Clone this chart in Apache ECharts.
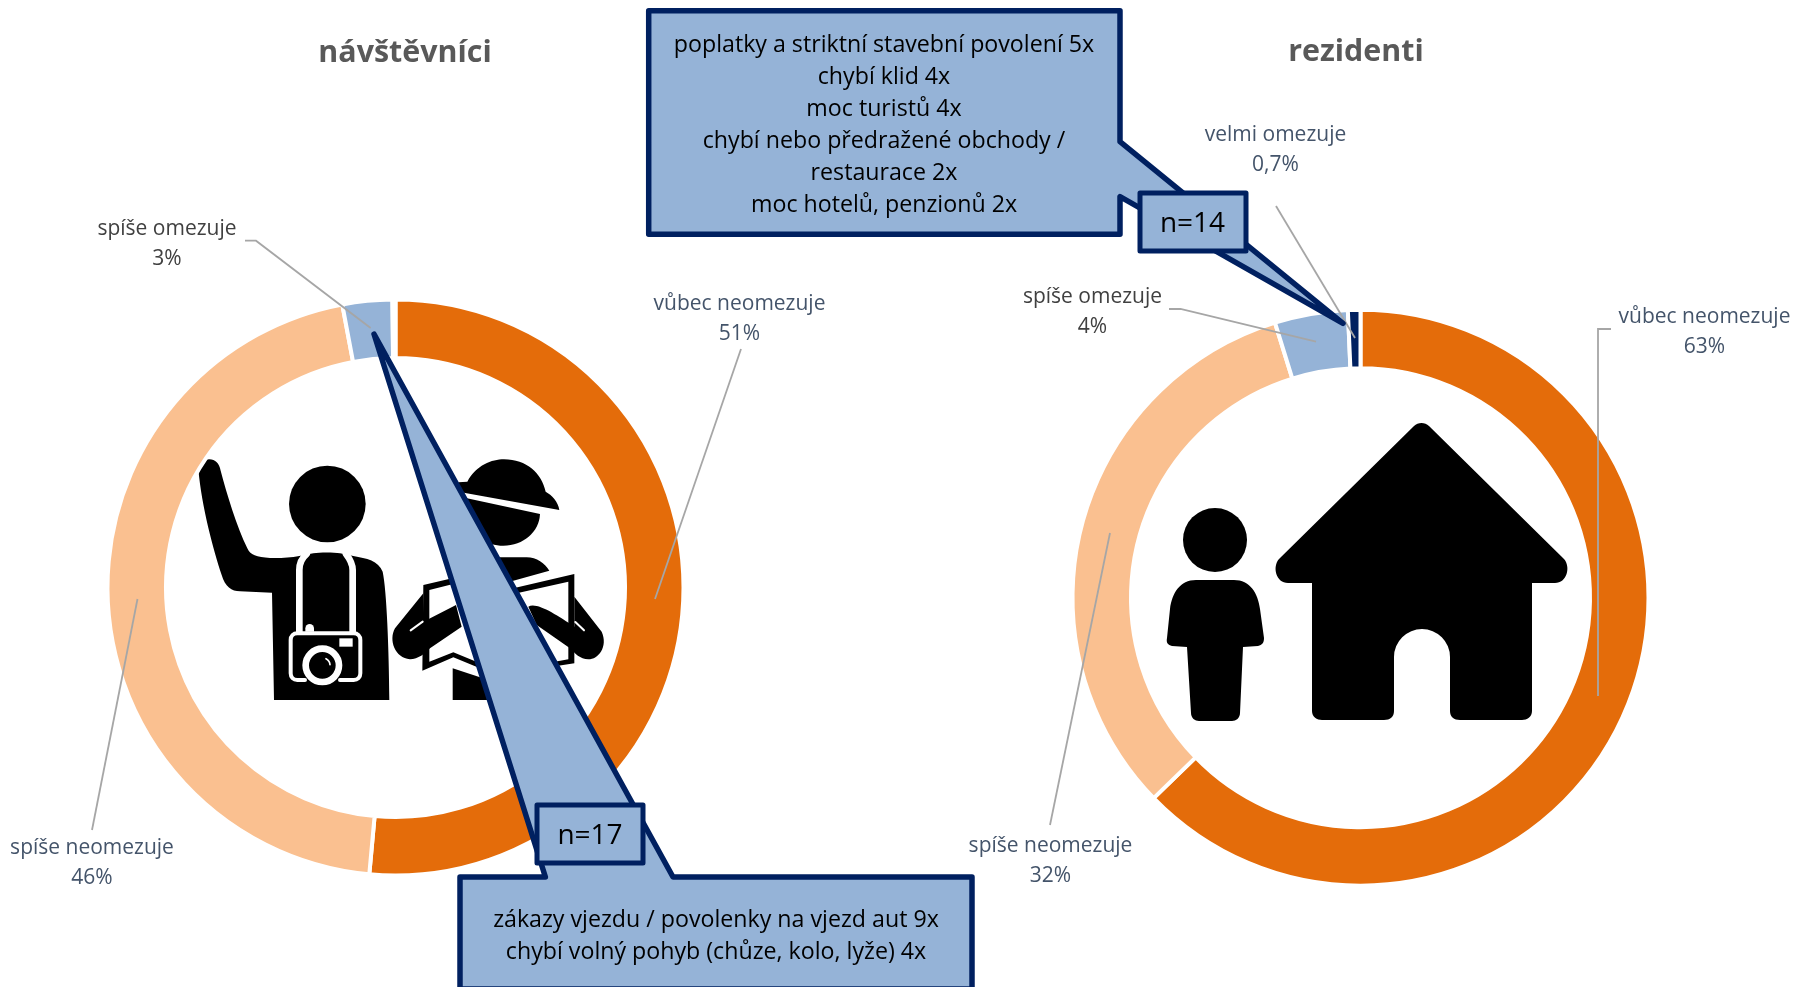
<!DOCTYPE html>
<html><head><meta charset="utf-8">
<style>html,body{margin:0;padding:0;background:#fff}#c{width:1796px;height:987px}</style>
<script src="https://cdn.jsdelivr.net/npm/echarts@6/dist/echarts.min.js"></script>
</head><body><div id="c"></div>
<script>
const categories = ['vůbec neomezuje', 'spíše neomezuje', 'spíše omezuje', 'velmi omezuje'];
const visitors = [51.45, 45.59, 2.79, 0.17];
const residents = [62.75, 32.45, 4.1, 0.7];
const sliceColors = ['#E46C0A', '#FAC090', '#95B3D7', '#002060'];
const titles = ['návštěvníci', 'rezidenti'];
const visitorNote = ['zákazy vjezdu / povolenky na vjezd aut 9x', 'chybí volný pohyb (chůze, kolo, lyže) 4x'];
const residentNote = ['poplatky a striktní stavební povolení 5x', 'chybí klid 4x', 'moc turistů 4x', 'chybí nebo předražené obchody /', 'restaurace 2x', 'moc hotelů, penzionů 2x'];
const visitorN = 'n=17', residentN = 'n=14';

const SLATE = '#44546A', GREY = '#404040', NAVY = '#002060', BLUE = '#95B3D7';
const FONT = '"Open Sans", sans-serif';

const visitorLabels = [
  {x: 739.5, y: 319, color: SLATE, line: [[741, 349], [655, 599]]},
  {x: 92, y: 863.5, color: SLATE, line: [[92, 830], [137.5, 599]]},
  {x: 167, y: 244.5, color: GREY, line: [[245, 240.7], [256, 240.7], [370.6, 328]]},
  null
];
const residentLabels = [
  {x: 1704.5, y: 332, color: SLATE, line: [[1611, 329], [1598, 329], [1598, 696]]},
  {x: 1050.5, y: 861.5, color: SLATE, line: [[1050, 825], [1110, 533]]},
  {x: 1092.5, y: 312.5, color: GREY, line: [[1169, 309], [1180.5, 309], [1316, 341.7]]},
  {x: 1275.5, y: 150, color: SLATE, line: [[1276, 206], [1355, 338]]}
];

function fmt(v) { return v < 1 ? String(v).replace('.', ',') + '%' : Math.round(v) + '%'; }

function pie(values, labels, center) {
  return {
    type: 'pie', silent: true, center: center, radius: [229.5, 288], startAngle: 90, clockwise: true,
    animation: false, avoidLabelOverlap: false, percentPrecision: 4,
    itemStyle: {borderColor: '#fff', borderWidth: 4},
    labelLine: {show: false},
    data: values.map((v, i) => ({
      name: categories[i], value: v,
      itemStyle: {color: sliceColors[i]},
      label: labels[i]
        ? {show: true, formatter: categories[i] + '\n' + fmt(v), color: labels[i].color, fontFamily: FONT, fontSize: 21, lineHeight: 30, align: 'center'}
        : {show: false}
    })),
    labelLayout: p => {
      const l = labels[p.dataIndex];
      if (!l) return {};
      return {x: l.x, y: l.y, align: 'center', verticalAlign: 'middle'};
    }
  };
}

const K = {fill: '#000'};
const W = {fill: '#fff'};
const WS = w => ({fill: 'none', stroke: '#fff', lineWidth: w, lineCap: 'round', lineJoin: 'round'});
const P = (d, style) => ({type: 'path', shape: {pathData: d}, style});

const touristA = [
  P('M25 58 C25 38 40 28 58 28 C76 28 88 40 92 62 C110 130 140 230 172 295 C180 315 200 322 240 324 C270 325 300 323 328 318 L370 310 C390 307 430 307 450 310 L490 318 C530 325 565 332 578 365 C590 420 597 600 598 750 L252 750 L246 428 L150 424 C125 424 105 410 95 375 C70 300 35 170 25 58 Z', K),
  P('M297 162 A115 115 0 1 0 527 162 A115 115 0 1 0 297 162 Z', K),
  P('M328 545 L328 360 C328 340 338 322 350 312', WS(20)),
  P('M488 545 L488 360 C488 340 478 325 468 312', WS(20)),
  P('M346 545 L346 535 A12 12 0 0 1 372 535 L372 545 Z', W),
  P('M345 690 L322 690 C310 690 302 682 302 670 L302 570 C302 558 310 550 322 550 L491 550 C503 550 511 558 511 570 L511 670 C511 682 503 690 491 690 L450 690', WS(12)),
  P('M347 646 A50 50 0 1 0 447 646 A50 50 0 1 0 347 646 Z', WS(20)),
  P('M408 626 A22 22 0 0 1 420 644', WS(5)),
  P('M448 565 L488 565 L488 590 L448 590 Z', W)
];
const touristB = [
  P('M235 97 L262 95 C290 45 335 28 372 28 C440 28 485 70 497 125 C515 135 535 155 538 180 L235 125 Z', K),
  P('M240 140 L480 192 C478 245 430 287 370 287 C320 287 275 260 255 215 Z', K),
  P('M340 322 L440 322 C470 322 495 340 508 362 L400 392 L300 420 Z', K),
  P('M218 655 L300 682 L330 750 L218 750 Z', K),
  P('M130 405 L300 365 L400 415 L583 372 L583 640 L530 648 L300 655 L220 622 L127 662 Z', K),
  P('M148 420 L300 382 L400 432 L565 395 L565 628 L500 640 L300 640 L220 607 L148 635 Z', W),
  P('M130 430 L45 535 C25 570 45 625 90 628 C115 628 135 610 150 595 L245 530 L228 465 L130 515 Z', K),
  P('M583 440 L665 545 C685 590 655 628 625 628 C600 628 585 610 570 595 L470 525 L445 470 C470 455 530 495 583 530 Z', K),
  P('M92 541 L128 515', WS(6)),
  P('M586 516 L612 541', WS(6))
];
const home = [
  P('M1215 507 A32 32 0 1 0 1215 571 A32 32 0 1 0 1215 507 Z', K),
  P('M1196 579 L1234 579 C1250 579 1258 592 1260 608 L1264 637 C1264 642 1262 644 1258 645 L1243 646 L1240 712 C1240 717 1236 720 1232 720 L1199 720 C1195 720 1191 717 1191 712 L1187 646 L1172 645 C1168 644 1166 642 1167 637 L1170 608 C1172 592 1180 579 1196 579 Z', K),
  P('M1414 425 C1418 421 1425 421 1429 425 L1564 558 C1571 566 1567 582 1555 582 L1532 582 L1532 710 C1532 716 1527 719 1522 719 L1460 719 C1454 719 1450 716 1450 710 L1450 656 A28 28 0 0 0 1394 656 L1394 710 C1394 716 1390 719 1384 719 L1322 719 C1317 719 1312 716 1312 710 L1312 582 L1288 582 C1276 582 1272 566 1279 558 Z', K)
];

function icons() {
  return {
    type: 'group',
    children: [
      {type: 'group', x: 190, y: 450, scaleX: 1 / 3, scaleY: 1 / 3, children: touristA},
      {type: 'group', x: 380, y: 450, scaleX: 1 / 3, scaleY: 1 / 3, children: touristB},
      {type: 'group', x: 0, y: 1, children: home}
    ]
  };
}

function leader(l) {
  return {type: 'polyline', z: 50, silent: true, shape: {points: l.line},
    style: {fill: 'none', stroke: '#A6A6A6', lineWidth: 1.8}};
}
function callout(points) {
  return {type: 'polygon', z: 100, silent: true, shape: {points},
    style: {fill: BLUE, stroke: NAVY, lineWidth: 5.5, lineJoin: 'round'}};
}
function box(x, y, w, h) {
  return {type: 'rect', z: 102, silent: true, shape: {x, y, width: w, height: h},
    style: {fill: BLUE, stroke: NAVY, lineWidth: 5, lineJoin: 'round'}};
}
function txt(text, x, y, size, fill, weight, lh) {
  return {type: 'text', z: 104, silent: true, x, y,
    style: {text, fill, font: (weight || 'normal') + ' ' + size + 'px ' + FONT, textAlign: 'center', textVerticalAlign: 'middle', lineHeight: lh || size * 1.3}};
}

const chart = echarts.init(document.getElementById('c'), null, {renderer: 'canvas'});
chart.setOption({
  backgroundColor: '#fff',
  animation: false,
  series: [
    {type: 'custom', coordinateSystem: 'none', silent: true, z: 1, data: [0], renderItem: icons, animation: false},
    Object.assign(pie(visitors, visitorLabels, [395.5, 587.5]), {z: 2}),
    Object.assign(pie(residents, residentLabels, [1360.5, 597.7]), {z: 2})
  ],
  graphic: [
    txt(titles[0], 405, 53, 30.4, '#595959', 'bold'),
    txt(titles[1], 1356, 52, 30.4, '#595959', 'bold'),
  ].concat(visitorLabels.filter(Boolean).map(leader), residentLabels.map(leader), [
    callout([[460, 877], [545.4, 877], [374, 334], [673, 877], [972, 877], [972, 989], [460, 989]]),
    box(537, 805, 106, 58),
    txt(visitorN, 590, 836, 28, '#000'),
    txt(visitorNote.join('\n'), 716, 936, 23.2, '#000', 'normal', 32),
    callout([[648.7, 10.7], [1120, 10.7], [1120, 141.7], [1343, 323.3], [1120, 196.7], [1120, 234.3], [648.7, 234.3]]),
    box(1140, 193, 106, 58),
    txt(residentN, 1192.5, 224, 28, '#000'),
    txt(residentNote.join('\n'), 884, 125, 23.2, '#000', 'normal', 32)
  ])
});
</script></body></html>
